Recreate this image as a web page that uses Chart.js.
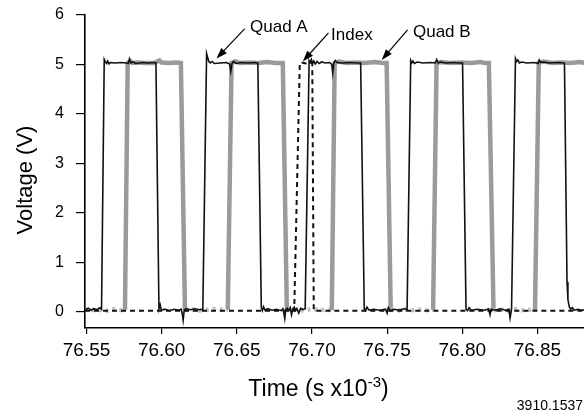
<!DOCTYPE html>
<html>
<head>
<meta charset="utf-8">
<script src="https://cdn.jsdelivr.net/npm/chart.js@4.4.1/dist/chart.umd.min.js"></script>
<style>
  html, body { margin: 0; padding: 0; background: #fff; }
</style>
</head>
<body>
<canvas id="myChart" width="584" height="417"></canvas>
<script>
// Quad A - black trace (time in s x10^-3, voltage in V)
var quadATime = [
  76.5490, 76.5512, 76.5530, 76.5548, 76.5570, 76.5588, 76.5600, 76.5618, 76.5626, 76.5634,
  76.5641, 76.5650, 76.5660, 76.5690, 76.5730, 76.5765, 76.5778, 76.5786, 76.5795, 76.5808,
  76.5830, 76.5870, 76.5910, 76.5950, 76.5962, 76.5982, 76.5990, 76.5998, 76.6020, 76.6050,
  76.6085, 76.6115, 76.6130, 76.6138, 76.6143, 76.6150, 76.6162, 76.6190, 76.6222, 76.6250,
  76.6274, 76.6299, 76.6306, 76.6314, 76.6324, 76.6336, 76.6350, 76.6390, 76.6430, 76.6452,
  76.6460, 76.6468, 76.6478, 76.6495, 76.6530, 76.6575, 76.6615, 76.6640, 76.6663, 76.6670,
  76.6678, 76.6688, 76.6705, 76.6735, 76.6765, 76.6795, 76.6806, 76.6813, 76.6819, 76.6826,
  76.6836, 76.6845, 76.6856, 76.6864, 76.6872, 76.6882, 76.6890, 76.6900, 76.6912, 76.6925,
  76.6940, 76.6955, 76.6981, 76.6988, 76.6996, 76.7004, 76.7012, 76.7022, 76.7034, 76.7048,
  76.7065, 76.7090, 76.7118, 76.7132, 76.7138, 76.7145, 76.7155, 76.7168, 76.7200, 76.7250,
  76.7300, 76.7324, 76.7348, 76.7356, 76.7366, 76.7380, 76.7410, 76.7450, 76.7490, 76.7500,
  76.7508, 76.7520, 76.7545, 76.7580, 76.7610, 76.7633, 76.7657, 76.7664, 76.7672, 76.7682,
  76.7700, 76.7740, 76.7790, 76.7820, 76.7830, 76.7840, 76.7855, 76.7890, 76.7940, 76.7980,
  76.8002, 76.8025, 76.8035, 76.8045, 76.8060, 76.8100, 76.8150, 76.8175, 76.8185, 76.8192,
  76.8220, 76.8250, 76.8290, 76.8310, 76.8318, 76.8328, 76.8354, 76.8362, 76.8370, 76.8380,
  76.8395, 76.8430, 76.8480, 76.8505, 76.8512, 76.8522, 76.8540, 76.8580, 76.8640, 76.8675,
  76.8680, 76.8697, 76.8703, 76.8712, 76.8722, 76.8733, 76.8745, 76.8770, 76.8795, 76.8815
];
var quadAVolt = [
  0.04, 0.07, 0.03, 0.06, 0.04, 0.08, 0.05, 5.10, 5.05, 5.02,
  5.07, 5.01, 5.04, 5.03, 5.04, 5.03, 5.02, 5.11, 5.03, 5.05,
  5.02, 5.04, 5.03, 5.04, 5.03, 0.06, 0.14, 0.03, 0.05, 0.02,
  0.05, 0.03, 0.05, -0.06, -0.17, 0.03, 0.06, 0.04, 0.06, 0.04,
  0.05, 5.22, 5.14, 5.06, 5.03, 5.06, 5.02, 5.03, 5.04, 5.01,
  4.86, 5.02, 5.06, 5.02, 5.04, 5.03, 5.04, 5.03, 0.08, 0.02,
  0.10, 0.03, 0.06, 0.03, 0.05, 0.02, 0.06, -0.03, -0.14, 0.04,
  0.07, 0.02, 0.08, -0.06, 0.05, 0.09, 0.02, 0.06, -0.03, 0.07,
  0.04, 0.06, 5.08, 5.04, 5.10, 5.02, 5.07, 5.01, 5.06, 5.02,
  5.05, 5.03, 5.04, 5.00, 4.83, 5.02, 5.08, 5.04, 5.03, 5.04,
  5.03, 5.03, 0.06, 0.02, 0.09, 0.03, 0.05, 0.03, 0.05, -0.03,
  0.08, 0.02, 0.05, 0.03, 0.06, 0.04, 5.08, 5.03, 5.07, 5.02,
  5.05, 5.03, 5.04, 5.03, 5.10, 5.03, 5.05, 5.03, 5.04, 5.03,
  5.03, 0.05, 0.02, 0.08, 0.03, 0.05, 0.03, 0.06, -0.06, 0.05,
  0.03, 0.06, 0.03, 0.05, -0.13, 0.05, 5.12, 5.06, 5.09, 5.03,
  5.05, 5.03, 5.04, 5.02, 5.09, 5.04, 5.05, 5.03, 5.04, 5.03,
  5.02, 0.60, 0.25, 0.10, 0.05, 0.08, 0.03, 0.05, 0.03, 0.04
];

// Quad B - gray trace
var quadBTime = [
  76.5490, 76.5520, 76.5560, 76.5600, 76.5640, 76.5680, 76.5720, 76.5756, 76.5774, 76.5790,
  76.5805, 76.5840, 76.5880, 76.5950, 76.5985, 76.6000, 76.6050, 76.6100, 76.6128, 76.6155,
  76.6200, 76.6250, 76.6300, 76.6360, 76.6410, 76.6440, 76.6465, 76.6490, 76.6520, 76.6580,
  76.6640, 76.6700, 76.6760, 76.6806, 76.6833, 76.6880, 76.6950, 76.7000, 76.7050, 76.7100,
  76.7132, 76.7151, 76.7180, 76.7230, 76.7300, 76.7350, 76.7420, 76.7470, 76.7497, 76.7524,
  76.7570, 76.7620, 76.7680, 76.7740, 76.7780, 76.7806, 76.7829, 76.7860, 76.7920, 76.7990,
  76.8060, 76.8120, 76.8150, 76.8177, 76.8208, 76.8250, 76.8300, 76.8350, 76.8410, 76.8460,
  76.8484, 76.8509, 76.8540, 76.8600, 76.8660, 76.8720, 76.8780, 76.8815
];
var quadBVolt = [
  0.03, 0.05, 0.02, 0.04, 0.02, 0.05, 0.03, 0.04, 5.03, 5.07,
  5.03, 5.04, 5.03, 5.03, 5.08, 5.04, 5.03, 5.04, 5.03, 0.03,
  0.05, 0.02, 0.04, 0.06, 0.03, 0.04, 5.03, 5.06, 5.03, 5.04,
  5.03, 5.05, 5.03, 5.03, 0.03, 0.05, 0.02, 0.06, 0.03, 0.04,
  0.03, 5.03, 5.06, 5.03, 5.04, 5.03, 5.05, 5.03, 5.03, 0.04,
  0.02, 0.05, 0.03, 0.05, 0.02, 0.04, 5.03, 5.05, 5.03, 5.04,
  5.03, 5.05, 5.03, 5.03, 0.03, 0.05, 0.02, 0.05, 0.03, 0.04,
  0.03, 5.03, 5.06, 5.03, 5.04, 5.03, 5.05, 5.03
];

// Index - dashed trace
var indexTime = [76.5490, 76.6882, 76.6919, 76.6930, 76.6960, 76.7002, 76.7012, 76.8815];
var indexVolt = [0.02, 0.02, 5.03, 5.04, 5.02, 5.03, 0.02, 0.02];

var xTicks = [76.55, 76.60, 76.65, 76.70, 76.75, 76.80, 76.85];
var yTicks = [0, 1, 2, 3, 4, 5, 6];

var FONT = '"Liberation Sans", Arial, Helvetica, sans-serif';

// callouts: text anchor, arrow tail, arrow tip (data units)
var callouts = [
  { label: 'Quad A', text: [76.6588, 5.66], tail: [76.6552, 5.72], tip: [76.6365, 5.12] },
  { label: 'Index',  text: [76.7127, 5.50], tail: [76.7110, 5.64], tip: [76.6939, 5.06] },
  { label: 'Quad B', text: [76.7672, 5.56], tail: [76.7636, 5.70], tip: [76.7464, 5.09] }
];

function pts(t, v) {
  return t.map(function(x, i) { return { x: x, y: v[i] }; });
}

var overlay = {
  id: 'overlay',
  afterDraw: function(chart) {
    var ctx = chart.ctx, xs = chart.scales.x, ys = chart.scales.y;
    ctx.save();
    ctx.fillStyle = '#000';
    ctx.strokeStyle = '#000';

    callouts.forEach(function(c) {
      var sx = xs.getPixelForValue(c.tail[0]), sy = ys.getPixelForValue(c.tail[1]);
      var tx = xs.getPixelForValue(c.tip[0]), ty = ys.getPixelForValue(c.tip[1]);
      var a = Math.atan2(ty - sy, tx - sx), ca = Math.cos(a), sa = Math.sin(a);
      ctx.lineWidth = 1.2;
      ctx.beginPath();
      ctx.moveTo(sx, sy);
      ctx.lineTo(tx - 8 * ca, ty - 8 * sa);
      ctx.stroke();
      ctx.beginPath();
      ctx.moveTo(tx, ty);
      ctx.lineTo(tx - 11 * ca + 3.8 * sa, ty - 11 * sa - 3.8 * ca);
      ctx.lineTo(tx - 11 * ca - 3.8 * sa, ty - 11 * sa + 3.8 * ca);
      ctx.closePath();
      ctx.fill();
      ctx.font = '17px ' + FONT;
      ctx.textAlign = 'left';
      ctx.textBaseline = 'alphabetic';
      ctx.fillText(c.label, xs.getPixelForValue(c.text[0]), ys.getPixelForValue(c.text[1]));
    });

    // y axis title
    ctx.save();
    ctx.translate(32, 180);
    ctx.rotate(-Math.PI / 2);
    ctx.font = '22px ' + FONT;
    ctx.textAlign = 'center';
    ctx.textBaseline = 'alphabetic';
    ctx.fillText('Voltage (V)', 0, 0);
    ctx.restore();

    // x axis title with superscript
    var big = '23px ' + FONT, small = '15px ' + FONT;
    ctx.font = big;
    var w1 = ctx.measureText('Time (s x10').width;
    var w3 = ctx.measureText(')').width;
    ctx.font = small;
    var w2 = ctx.measureText('-3').width;
    var x0 = 318.5 - (w1 + w2 + w3) / 2, base = 396;
    ctx.textAlign = 'left';
    ctx.font = big;
    ctx.fillText('Time (s x10', x0, base);
    ctx.font = small;
    ctx.fillText('-3', x0 + w1, base - 9);
    ctx.font = big;
    ctx.fillText(')', x0 + w1 + w2, base);

    // figure number
    ctx.font = '14px ' + FONT;
    ctx.textAlign = 'right';
    ctx.fillText('3910.1537', 583, 410);
    ctx.restore();
  }
};

new Chart('myChart', {
  type: 'line',
  data: {
    datasets: [{
      label: 'Quad A',
      data: pts(quadATime, quadAVolt),
      borderColor: '#111',
      borderWidth: 1.6,
      order: 1
    }, {
      label: 'Index',
      data: pts(indexTime, indexVolt),
      borderColor: '#111',
      borderWidth: 2,
      borderDash: [5, 4],
      order: 2
    }, {
      label: 'Quad B',
      data: pts(quadBTime, quadBVolt),
      borderColor: '#9a9a9a',
      borderWidth: 4.5,
      segment: {
        borderColor: function(c) { return (c.p0.parsed.y < 1 && c.p1.parsed.y < 1) ? '#c2c2c2' : undefined; },
        borderDash: function(c) { return (c.p0.parsed.y < 1 && c.p1.parsed.y < 1) ? [3, 4] : undefined; }
      },
      order: 3
    }]
  },
  options: {
    responsive: false,
    animation: false,
    events: [],
    parsing: false,
    layout: { padding: { top: 15, left: 0, right: 0, bottom: 0 } },
    elements: {
      point: { radius: 0 },
      line: { tension: 0, fill: false, borderJoinStyle: 'miter', borderCapStyle: 'butt' }
    },
    plugins: {
      legend: { display: false },
      tooltip: { enabled: false }
    },
    scales: {
      x: {
        type: 'linear',
        min: 76.549,
        max: 76.881,
        afterBuildTicks: function(s) { s.ticks = xTicks.map(function(v) { return { value: v }; }); },
        afterFit: function(s) { s.height = 89; s.paddingLeft = 0; s.paddingRight = 0; },
        ticks: {
          callback: function(v) { return v.toFixed(2); },
          font: { size: 19, family: FONT },
          color: '#000',
          padding: 5,
          maxRotation: 0,
          autoSkip: false
        },
        grid: { drawOnChartArea: false, drawTicks: true, tickLength: 6, color: '#000', lineWidth: 1.2 },
        border: { display: true, color: '#000', width: 1.6 }
      },
      y: {
        type: 'linear',
        min: -0.33,
        max: 6,
        afterBuildTicks: function(s) { s.ticks = yTicks.map(function(v) { return { value: v }; }); },
        afterFit: function(s) { s.width = 85; s.paddingTop = 0; s.paddingBottom = 0; },
        ticks: {
          font: { size: 16, family: FONT },
          color: '#000',
          padding: 12
        },
        grid: { drawOnChartArea: false, drawTicks: true, tickLength: 9, color: '#000', lineWidth: 1.2 },
        border: { display: true, color: '#000', width: 1.6 }
      }
    }
  },
  plugins: [overlay]
});
</script>
</body>
</html>
